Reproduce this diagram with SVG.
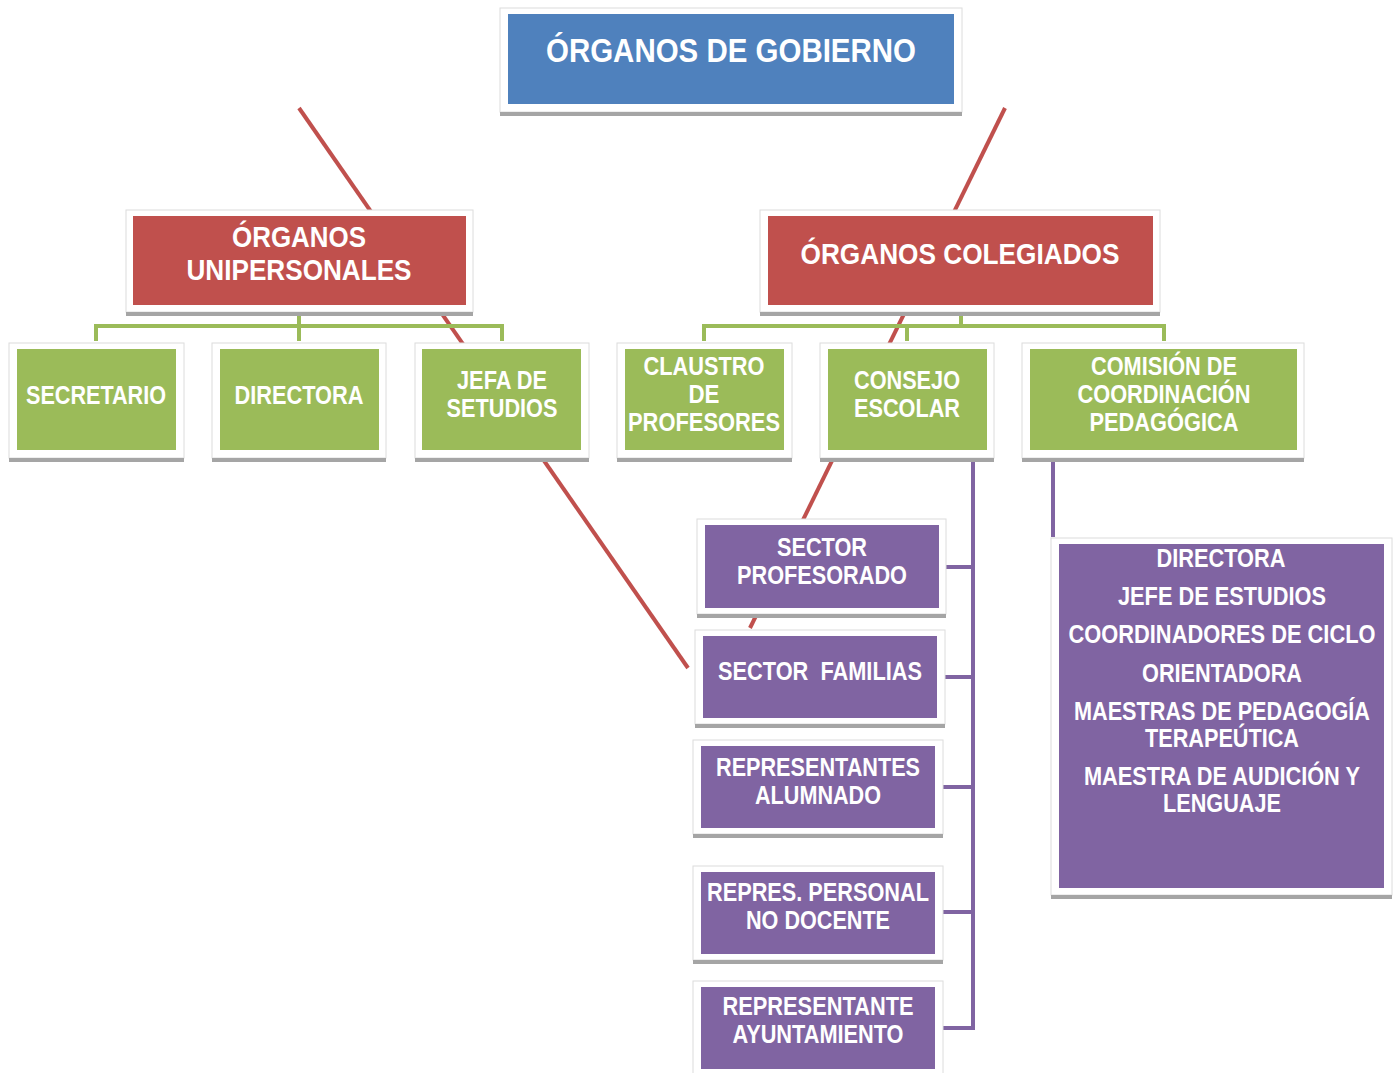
<svg xmlns="http://www.w3.org/2000/svg" width="1395" height="1073" viewBox="0 0 1395 1073">
<style>
.frame{fill:#ffffff;stroke:#dcdcdc;stroke-width:1}
.shadow{fill:#a5a5a5}
.blue{fill:#4f81bd}
.red{fill:#c0504d}
.green{fill:#9bbb59}
.purple{fill:#8064a2}
.t{font-family:"Liberation Sans",Arial,sans-serif;font-weight:bold;fill:#ffffff;text-anchor:middle}
.f34{font-size:34px}
.f30{font-size:30px}
.f26{font-size:26px}
.cr{stroke:#c0504d;stroke-width:4;fill:none}
.cg{stroke:#9bbb59;stroke-width:4;fill:none}
.cp{stroke:#8064a2;stroke-width:4;fill:none}
</style>
<rect width="1395" height="1073" fill="#ffffff"/>
<g id="connectors">
<line class="cr" x1="299" y1="108" x2="688" y2="668"/>
<line class="cr" x1="1005" y1="108" x2="750" y2="628"/>
<polyline class="cg" points="96,341 96,326 502,326 502,341"/>
<line class="cg" x1="299" y1="314" x2="299" y2="341"/>
<polyline class="cg" points="704,341 704,326 1164,326 1164,341"/>
<line class="cg" x1="961" y1="314" x2="961" y2="326"/>
<line class="cg" x1="907" y1="326" x2="907" y2="341"/>
<line class="cp" x1="973" y1="460" x2="973" y2="1028"/>
<line class="cp" x1="946" y1="567" x2="973" y2="567"/>
<line class="cp" x1="945" y1="677" x2="973" y2="677"/>
<line class="cp" x1="943" y1="787" x2="973" y2="787"/>
<line class="cp" x1="943" y1="912" x2="973" y2="912"/>
<line class="cp" x1="943" y1="1028" x2="975" y2="1028"/>
<line class="cp" x1="1053" y1="460" x2="1053" y2="537"/>
</g>
<g id="n-gobierno">
<rect class="frame" x="500" y="8" width="462" height="104"/>
<rect class="shadow" x="500" y="112" width="462" height="4"/>
<rect class="blue" x="508" y="14" width="446" height="90"/>
<text class="t f34" x="731" y="62" textLength="370" lengthAdjust="spacingAndGlyphs">ÓRGANOS DE GOBIERNO</text>
</g>
<g id="n-unipersonales">
<rect class="frame" x="126" y="210" width="347" height="102"/>
<rect class="shadow" x="126" y="312" width="347" height="4"/>
<rect class="red" x="133" y="216" width="333" height="89"/>
<text class="t f30" x="299" y="247" textLength="134" lengthAdjust="spacingAndGlyphs">ÓRGANOS</text>
<text class="t f30" x="299" y="280" textLength="225" lengthAdjust="spacingAndGlyphs">UNIPERSONALES</text>
</g>
<g id="n-colegiados">
<rect class="frame" x="760" y="210" width="400" height="102"/>
<rect class="shadow" x="760" y="312" width="400" height="4"/>
<rect class="red" x="768" y="216" width="385" height="89"/>
<text class="t f30" x="960" y="264" textLength="319" lengthAdjust="spacingAndGlyphs">ÓRGANOS COLEGIADOS</text>
</g>
<g id="n-secretario">
<rect class="frame" x="9" y="343" width="175" height="115"/>
<rect class="shadow" x="9" y="458" width="175" height="4"/>
<rect class="green" x="17" y="349" width="159" height="101"/>
<text class="t f26" x="96" y="404" textLength="140" lengthAdjust="spacingAndGlyphs">SECRETARIO</text>
</g>
<g id="n-directora">
<rect class="frame" x="212" y="343" width="174" height="115"/>
<rect class="shadow" x="212" y="458" width="174" height="4"/>
<rect class="green" x="220" y="349" width="159" height="101"/>
<text class="t f26" x="299" y="404" textLength="129" lengthAdjust="spacingAndGlyphs">DIRECTORA</text>
</g>
<g id="n-jefa">
<rect class="frame" x="415" y="343" width="174" height="115"/>
<rect class="shadow" x="415" y="458" width="174" height="4"/>
<rect class="green" x="422" y="349" width="159" height="101"/>
<text class="t f26" x="502" y="389" textLength="90" lengthAdjust="spacingAndGlyphs">JEFA DE</text>
<text class="t f26" x="502" y="417" textLength="111" lengthAdjust="spacingAndGlyphs">SETUDIOS</text>
</g>
<g id="n-claustro">
<rect class="frame" x="617" y="343" width="175" height="115"/>
<rect class="shadow" x="617" y="458" width="175" height="4"/>
<rect class="green" x="625" y="349" width="159" height="101"/>
<text class="t f26" x="704" y="375" textLength="121" lengthAdjust="spacingAndGlyphs">CLAUSTRO</text>
<text class="t f26" x="704" y="403" textLength="31" lengthAdjust="spacingAndGlyphs">DE</text>
<text class="t f26" x="704" y="431" textLength="152" lengthAdjust="spacingAndGlyphs">PROFESORES</text>
</g>
<g id="n-consejo">
<rect class="frame" x="820" y="343" width="174" height="115"/>
<rect class="shadow" x="820" y="458" width="174" height="4"/>
<rect class="green" x="828" y="349" width="159" height="101"/>
<text class="t f26" x="907" y="389" textLength="106" lengthAdjust="spacingAndGlyphs">CONSEJO</text>
<text class="t f26" x="907" y="417" textLength="106" lengthAdjust="spacingAndGlyphs">ESCOLAR</text>
</g>
<g id="n-comision">
<rect class="frame" x="1022" y="343" width="282" height="115"/>
<rect class="shadow" x="1022" y="458" width="282" height="4"/>
<rect class="green" x="1030" y="349" width="267" height="101"/>
<text class="t f26" x="1164" y="375" textLength="146" lengthAdjust="spacingAndGlyphs">COMISIÓN DE</text>
<text class="t f26" x="1164" y="403" textLength="173" lengthAdjust="spacingAndGlyphs">COORDINACIÓN</text>
<text class="t f26" x="1164" y="431" textLength="149" lengthAdjust="spacingAndGlyphs">PEDAGÓGICA</text>
</g>
<g id="n-profesorado">
<rect class="frame" x="697" y="519" width="249" height="95"/>
<rect class="shadow" x="697" y="614" width="249" height="4"/>
<rect class="purple" x="705" y="525" width="234" height="83"/>
<text class="t f26" x="822" y="556" textLength="90" lengthAdjust="spacingAndGlyphs">SECTOR</text>
<text class="t f26" x="822" y="584" textLength="170" lengthAdjust="spacingAndGlyphs">PROFESORADO</text>
</g>
<g id="n-familias">
<rect class="frame" x="695" y="630" width="250" height="94"/>
<rect class="shadow" x="695" y="724" width="250" height="4"/>
<rect class="purple" x="703" y="636" width="234" height="82"/>
<text class="t f26" x="820" y="680" textLength="204" lengthAdjust="spacingAndGlyphs" xml:space="preserve">SECTOR  FAMILIAS</text>
</g>
<g id="n-alumnado">
<rect class="frame" x="693" y="740" width="250" height="94"/>
<rect class="shadow" x="693" y="834" width="250" height="4"/>
<rect class="purple" x="701" y="746" width="234" height="82"/>
<text class="t f26" x="818" y="776" textLength="204" lengthAdjust="spacingAndGlyphs">REPRESENTANTES</text>
<text class="t f26" x="818" y="804" textLength="126" lengthAdjust="spacingAndGlyphs">ALUMNADO</text>
</g>
<g id="n-personal">
<rect class="frame" x="693" y="866" width="250" height="94"/>
<rect class="shadow" x="693" y="960" width="250" height="4"/>
<rect class="purple" x="701" y="872" width="234" height="82"/>
<text class="t f26" x="818" y="901" textLength="222" lengthAdjust="spacingAndGlyphs">REPRES. PERSONAL</text>
<text class="t f26" x="818" y="929" textLength="144" lengthAdjust="spacingAndGlyphs">NO DOCENTE</text>
</g>
<g id="n-ayuntamiento">
<rect class="frame" x="693" y="981" width="250" height="94"/>
<rect class="purple" x="701" y="987" width="234" height="82"/>
<text class="t f26" x="818" y="1015" textLength="191" lengthAdjust="spacingAndGlyphs">REPRESENTANTE</text>
<text class="t f26" x="818" y="1043" textLength="171" lengthAdjust="spacingAndGlyphs">AYUNTAMIENTO</text>
</g>
<g id="n-miembros">
<rect class="frame" x="1051" y="538" width="341" height="357"/>
<rect class="shadow" x="1051" y="895" width="341" height="4"/>
<rect class="purple" x="1059" y="544" width="325" height="344"/>
<text class="t f26" x="1221" y="567" textLength="129" lengthAdjust="spacingAndGlyphs">DIRECTORA</text>
<text class="t f26" x="1222" y="605" textLength="208" lengthAdjust="spacingAndGlyphs">JEFE DE ESTUDIOS</text>
<text class="t f26" x="1222" y="643" textLength="307" lengthAdjust="spacingAndGlyphs">COORDINADORES DE CICLO</text>
<text class="t f26" x="1222" y="682" textLength="160" lengthAdjust="spacingAndGlyphs">ORIENTADORA</text>
<text class="t f26" x="1222" y="720" textLength="296" lengthAdjust="spacingAndGlyphs">MAESTRAS DE PEDAGOGÍA</text>
<text class="t f26" x="1222" y="747" textLength="154" lengthAdjust="spacingAndGlyphs">TERAPEÚTICA</text>
<text class="t f26" x="1222" y="785" textLength="276" lengthAdjust="spacingAndGlyphs">MAESTRA DE AUDICIÓN Y</text>
<text class="t f26" x="1222" y="812" textLength="118" lengthAdjust="spacingAndGlyphs">LENGUAJE</text>
</g>
</svg>
